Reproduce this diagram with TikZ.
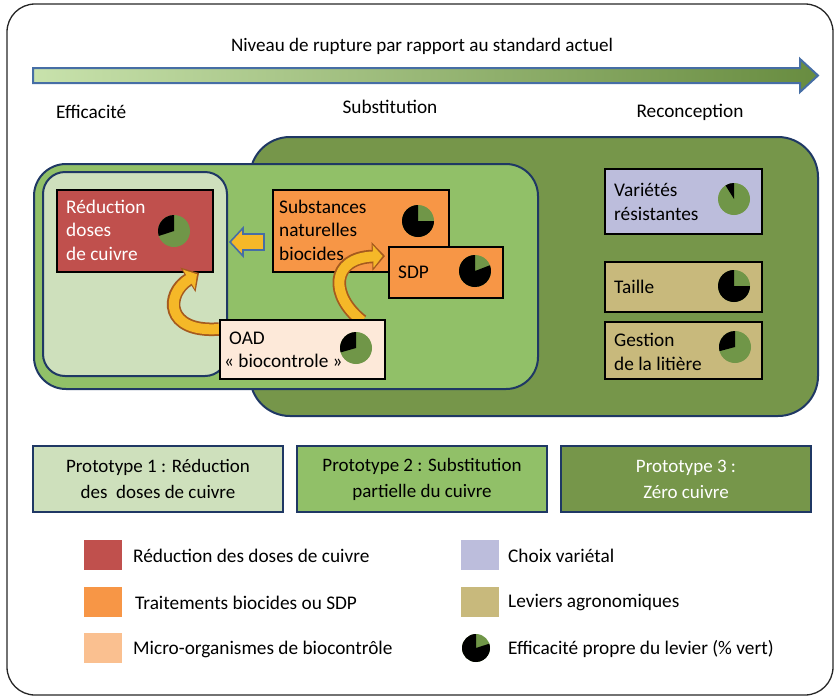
\documentclass[tikz,border=0pt]{standalone}
\usepackage{fontspec}
\setmainfont{Carlito}
\usetikzlibrary{arrows.meta,calc}
\definecolor{darkg}{RGB}{118,150,74}
\definecolor{medg}{RGB}{145,192,104}
\definecolor{lightg}{RGB}{206,224,188}
\definecolor{navy}{RGB}{31,56,100}
\definecolor{redc}{RGB}{192,80,77}
\definecolor{orangec}{RGB}{247,150,70}
\definecolor{peachl}{RGB}{253,233,217}
\definecolor{peachleg}{RGB}{250,192,144}
\definecolor{lavc}{RGB}{188,189,220}
\definecolor{khakic}{RGB}{200,185,124}
\definecolor{pieg}{RGB}{112,150,72}
\definecolor{arrblue}{RGB}{70,110,165}
\definecolor{arrL}{RGB}{200,226,172}
\definecolor{arrM}{RGB}{150,195,110}
\definecolor{arrR}{RGB}{104,140,64}
\definecolor{goldc}{RGB}{245,184,40}
\definecolor{brownc}{RGB}{165,90,30}
\newcommand\mypie[4]{%
  \fill[pieg] (#1) circle[radius=#2];
  \fill[black] (#1) -- ++(-#3:#2) arc[start angle=-#3, end angle=-#4, radius=#2] -- cycle;}
\begin{document}
\begin{tikzpicture}[x=1pt,y=-1pt,
  region/.style={draw=navy, line width=2pt},
  lever/.style={draw=black, line width=2pt, anchor=north west, inner sep=0pt},
  txt/.style={inner sep=0pt, font=\fontsize{19.3}{23.5}\selectfont, align=left},
  proto/.style={draw=navy, line width=2.5pt, minimum width=250pt, minimum height=66pt,
    inner sep=0pt, align=center, font=\fontsize{19}{26}\selectfont},
  legsq/.style={minimum width=38pt, minimum height=30pt, inner sep=0pt},
  curvo/.style={line width=13.5pt, draw=brownc, -{Triangle[length=13pt,width=28pt]}},
  curvi/.style={line width=10pt, draw=goldc, shorten >=2.4pt, -{Triangle[length=9.5pt,width=22pt]}}]
\useasboundingbox (0,0) rectangle (835,697);
% outer frame
\draw[line width=1.3pt, black!85, rounded corners=28pt] (7,4) rectangle (833,695);
% title and gradient arrow
\node[txt, font=\fontsize{19.1}{23}\selectfont] (title) at (422,46) {Niveau de rupture par rapport au standard actuel};
\shadedraw[left color=arrL, middle color=arrM, right color=arrR, draw=arrblue, line width=2pt, line join=miter]
  (33,68) -- (800,68) -- (800,59) -- (818,75.5) -- (800,92) -- (800,83) -- (33,83) -- cycle;
\node[txt, anchor=west] (eff) at (56,112) {Efficacité};
\node[txt] (subs) at (390,107) {Substitution};
\node[txt] (recon) at (690,112) {Reconception};
% regions
\draw[region, fill=darkg, rounded corners=40pt] (250,137) rectangle (818,416);
\draw[region, fill=medg, rounded corners=32pt] (34,164) rectangle (538,389);
\draw[region, fill=lightg, rounded corners=22pt] (43,172) rectangle (227,376);
% lever boxes
\node[lever, fill=redc, minimum width=156pt, minimum height=82pt] (red) at (56,189) {};
\node[lever, fill=orangec, minimum width=176pt, minimum height=82pt] (nat) at (272,189) {};
\node[lever, fill=orangec, minimum width=114pt, minimum height=51pt] (sdp) at (388,246) {};
\node[lever, fill=lavc, minimum width=157pt, minimum height=65pt] (var) at (604,168) {};
\node[lever, fill=khakic, minimum width=157pt, minimum height=50pt] (taille) at (604,261) {};
\node[lever, fill=khakic, minimum width=157pt, minimum height=57pt] (gest) at (604,321) {};
% block arrow
\draw[fill=goldc, draw=arrblue, line width=1.6pt, line join=miter]
  (264,234) -- (243,234) -- (243,228) -- (230,242) -- (243,256) -- (243,250) -- (264,250) -- cycle;
\path (219,319) coordinate (oadnw);
% curved arrows
\coordinate (c1s) at (219,329);
\coordinate (c1e) at ($(red.south east)+(-15,0)$);
\coordinate (c2s) at (362,321);
\coordinate (c2e) at ($(sdp.north west)+(-3,10)$);
\draw[curvo] (c1s) .. controls (165,333) and (165,294) .. (c1e);
\draw[curvi] (c1s) .. controls (165,333) and (165,294) .. (c1e);
\draw[curvo] (c2s) .. controls (330,296) and (330,258) .. (c2e);
\draw[curvi] (c2s) .. controls (330,296) and (330,258) .. (c2e);
\node[lever, fill=peachl, minimum width=165pt, minimum height=59pt] (oad) at (oadnw) {};
% pies
\mypie{174,231}{16}{90}{198}
\mypie{418,221}{16}{90}{360}
\mypie{475,271}{16}{90}{381}
\mypie{356,348}{16}{90}{196}
\mypie{734,199}{16}{90}{122}
\mypie{734,286}{16}{90}{360}
\mypie{735,347}{16}{90}{195}
% texts in boxes
\node[txt, anchor=west, text=white] (redt) at (66,230) {Réduction\\doses\\de cuivre};
\node[txt, anchor=west] (natt) at (279,230) {Substances\\naturelles\\biocides};
\node[txt, anchor=west] (sdpt) at (398,272) {SDP};
\node[txt, anchor=west] (oadt) at (224,350) {\hspace*{5pt}OAD\\« biocontrole »};
\node[txt, anchor=west] (vart) at (614,202) {Variétés\\résistantes};
\node[txt, anchor=west] (taillet) at (614,287) {Taille};
\node[txt, anchor=west] (gestt) at (614,352) {Gestion\\de la litière};
% prototypes
\node[proto, fill=lightg] (p1) at (158,479) {Prototype 1 : Réduction\\des\ \ doses de cuivre};
\node[proto, fill=medg] (p2) at (422,479) {Prototype 2 : Substitution\\partielle du cuivre};
\node[proto, fill=darkg, text=white] (p3) at (686,479) {Prototype 3 :\\Zéro cuivre};
% legend
\node[legsq, fill=redc] (l1) at (103,555) {};
\node[legsq, fill=orangec] (l2) at (103,602) {};
\node[legsq, fill=peachleg] (l3) at (103,648) {};
\node[legsq, fill=lavc] (l4) at (479.5,555) {};
\node[legsq, fill=khakic] (l5) at (479.5,602) {};
\mypie{476,648}{14}{90}{378}
\node[txt, anchor=west] (l1t) at (133,556) {Réduction des doses de cuivre};
\node[txt, anchor=west] (l2t) at (135,603) {Traitements biocides ou SDP};
\node[txt, anchor=west] (l3t) at (133,649) {Micro-organismes de biocontrôle};
\node[txt, anchor=west] (l4t) at (508,556) {Choix variétal};
\node[txt, anchor=west] (l5t) at (508,603) {Leviers agronomiques};
\node[txt, anchor=west] (l6t) at (508,649) {Efficacité propre du levier (\% vert)};
\end{tikzpicture}
\end{document}
